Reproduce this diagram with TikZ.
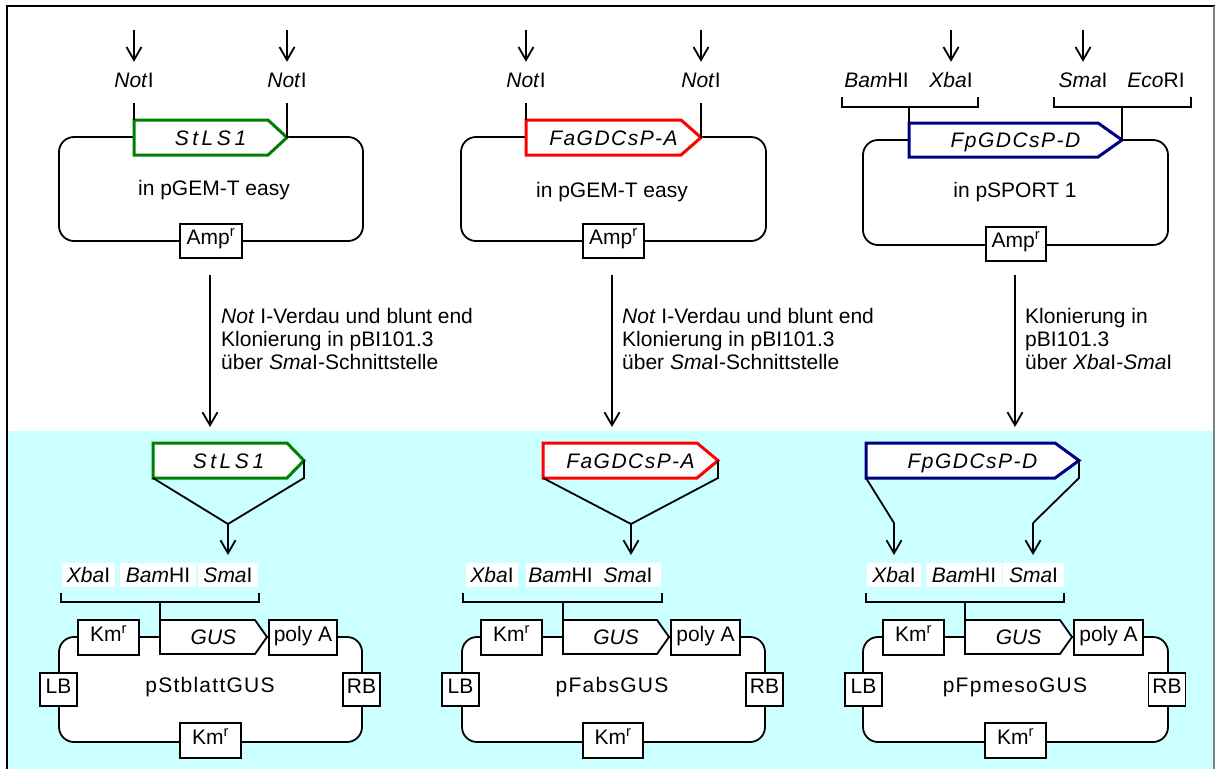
\documentclass[tikz,border=0pt]{standalone}
\usepackage{fontspec}
\setmainfont{Liberation Sans}
\newfontfamily\trackwide[LetterSpace=17]{Liberation Sans}
\newfontfamily\tracknarrow[LetterSpace=7]{Liberation Sans}
\newfontfamily\trackname[LetterSpace=6]{Liberation Sans}
\usetikzlibrary{arrows.meta}
\definecolor{genegreen}{RGB}{0,128,0}
\definecolor{genered}{RGB}{255,0,0}
\definecolor{geneblue}{RGB}{0,0,128}
\definecolor{panelcyan}{RGB}{204,255,255}

% gene cassette: name, outline, left x, shoulder x, tip x, top y, bottom y, label
\newcommand\GeneArrow[8]{%
  \coordinate (#1-nw) at (#3,#6);
  \coordinate (#1-sw) at (#3,#7);
  \coordinate (#1-tip) at (#5,{(#6+#7)/2});
  \coordinate (#1-se) at (#5,#7);
  \draw[genebox,draw=#2] (#1-nw) -- (#4,#6) -- (#1-tip) -- (#4,#7) -- (#1-sw) -- cycle;
  \node[lbl] (#1) at ({(#3+#5)/2},{(#6+#7)/2}) {#8};
}

\begin{document}
\begin{tikzpicture}[x=1pt, y=-1pt, font=\fontsize{21}{23}\selectfont,
  wire/.style={line width=1.8pt},
  arr/.style={line width=1.8pt, -{Straight Barb[length=13pt,width=15pt]}},
  lbl/.style={inner sep=0pt, text height=15pt, text depth=0pt},
  plasmid/.style={draw, fill=white, line width=1.8pt, rounded corners=15pt, inner sep=0pt},
  box/.style={draw, fill=white, line width=1.8pt, inner sep=0pt, text height=15pt, text depth=8pt},
  site/.style={fill=white, inner sep=0pt, minimum height=24pt, text height=15pt, text depth=0pt},
  genebox/.style={fill=white, line width=3pt, line join=miter},
]
\useasboundingbox (0,0) rectangle (1217,769);

% background and frame
\fill[panelcyan] (8,431) rectangle (1214,769);
\draw[line width=1.8pt] (7,769) -- (7,6) -- (1215,6);
\draw[gray, line width=1.2pt] (1214,6) -- (1214,769);

% ---------- source plasmids ----------
\node[plasmid, minimum width=304, minimum height=104] (p1) at (211,189) {};
\node[plasmid, minimum width=305, minimum height=104] (p2) at (613.5,189) {};
\node[plasmid, minimum width=305, minimum height=105] (p3) at (1015.5,192.5) {};
\node[lbl] (p1-name) at (214,188) {in pGEM-T easy};
\node[lbl] (p2-name) at (612,190) {in pGEM-T easy};
\node[lbl] (p3-name) at (1015,190) {in pSPORT 1};
\node[box, minimum width=62, minimum height=34] (amp1) at (211,241) {Amp\textsuperscript{r}};
\node[box, minimum width=61, minimum height=34] (amp2) at (613.5,241) {Amp\textsuperscript{r}};
\node[box, minimum width=60, minimum height=34] (amp3) at (1016,244) {Amp\textsuperscript{r}};

\GeneArrow{g1}{genegreen}{134}{268}{287}{120}{155}{\trackwide\itshape StLS1}
\GeneArrow{g2}{genered}{526}{681}{701}{120}{155}{\tracknarrow\itshape FaGDCsP-A}
\GeneArrow{g3}{geneblue}{909}{1098}{1122}{123}{157}{\tracknarrow\itshape FpGDCsP-D}

% restriction sites of the source plasmids
\node[lbl] (n1a) at (134,80) {\textit{Not}I};
\node[lbl] (n1b) at (287,80) {\textit{Not}I};
\node[lbl] (n2a) at (526,80) {\textit{Not}I};
\node[lbl] (n2b) at (701,80) {\textit{Not}I};
\node[lbl] (bam3) at (876.5,80) {\textit{Bam}HI};
\node[lbl] (xba3) at (951,80) {\textit{Xba}I};
\node[lbl] (sma3) at (1083,80) {\textit{Sma}I};
\node[lbl] (eco3) at (1156,80) {\textit{Eco}RI};

\foreach \n/\x in {n1a/134, n1b/287, n2a/526, n2b/701, xba3/951, sma3/1083}{
  \coordinate (\n-in) at (\x,30);
  \draw[arr, shorten >=10.5pt] (\n-in) -- (\n);
}

\coordinate (t1a) at (134,103);
\coordinate (t1b) at (287,103);
\coordinate (t2a) at (526,103);
\coordinate (t2b) at (701,103);
\draw[wire] (t1a) -- (g1-nw);
\draw[wire] (t1b) -- (g1-tip);
\draw[wire] (t2a) -- (g2-nw);
\draw[wire] (t2b) -- (g2-tip);

\draw[wire] (842,97) |- (978,107) -- (978,97);
\draw[wire] (1054,97) |- (1191,107) -- (1191,97);
\coordinate (s3a) at (909,107);
\coordinate (s3b) at (1122,107);
\draw[wire] (s3a) -- (g3-nw);
\draw[wire] (s3b) -- (g3-tip);

% ---------- cloning steps ----------
\foreach \i/\x in {1/210, 2/612, 3/1015}{
  \coordinate (m\i-s) at (\x,275);
  \coordinate (m\i-e) at (\x,427);
  \draw[arr] (m\i-s) -- (m\i-e);
}
\node[lbl, anchor=west] (d1a) at (221,316) {\textit{Not} I-Verdau und blunt end};
\node[lbl, anchor=west] (d1b) at (221,339) {Klonierung in pBI101.3};
\node[lbl, anchor=west] (d1c) at (221,362) {über \textit{Sma}I-Schnittstelle};
\node[lbl, anchor=west] (d2a) at (622,316) {\textit{Not} I-Verdau und blunt end};
\node[lbl, anchor=west] (d2b) at (622,339) {Klonierung in pBI101.3};
\node[lbl, anchor=west] (d2c) at (622,362) {über \textit{Sma}I-Schnittstelle};
\node[lbl, anchor=west] (d3a) at (1025,316) {Klonierung in};
\node[lbl, anchor=west] (d3b) at (1025,339) {pBI101.3};
\node[lbl, anchor=west] (d3c) at (1025,362) {über \textit{Xba}I-\textit{Sma}I};

% ---------- binary vectors ----------
\node[plasmid, minimum width=303, minimum height=105] (q1) at (210.5,689.5) {};
\node[plasmid, minimum width=303, minimum height=105] (q2) at (613.5,689.5) {};
\node[plasmid, minimum width=305, minimum height=105] (q3) at (1015.5,689.5) {};
\node[lbl] (q1-name) at (210,685) {\trackname pStblattGUS};
\node[lbl] (q2-name) at (612,685) {\trackname pFabsGUS};
\node[lbl] (q3-name) at (1015,685) {\trackname pFpmesoGUS};

\foreach \i/\km/\pa/\pw/\lb/\rb/\kb/\kw in
  {1/108.5/303/68/58.5/361.5/210.5/61,
   2/511.5/705.5/69/460.5/764.5/613/60,
   3/913.5/1108.5/69/863.5/1167/1015.5/61}{
  \node[box, minimum width=61, minimum height=35] (km\i) at (\km,637.5) {Km\textsuperscript{r}};
  \node[box, minimum width=\pw, minimum height=35] (pa\i) at (\pa,637.5) {poly A};
  \node[box, minimum width=37, minimum height=33] (lb\i) at (\lb,689.5) {LB};
  \node[box, minimum width=37, minimum height=33] (rb\i) at (\rb,689.5) {RB};
  \node[box, minimum width=\kw, minimum height=35] (kb\i) at (\kb,740.5) {Km\textsuperscript{r}};
}

\GeneArrow{gus1}{black, line width=1.8pt}{160}{255}{267}{620}{654}{\itshape GUS}
\GeneArrow{gus2}{black, line width=1.8pt}{563}{657}{669}{620}{654}{\itshape GUS}
\GeneArrow{gus3}{black, line width=1.8pt}{965}{1060}{1072}{620}{654}{\itshape GUS}

% multiple cloning sites
\node[site, minimum width=53] (xb1) at (88.5,575) {\textit{Xba}I};
\node[site, minimum width=76] (bm1) at (158,575) {\textit{Bam}HI};
\node[site, minimum width=60] (sm1) at (228,575) {\textit{Sma}I};
\node[site, minimum width=52] (xb2) at (492,575) {\textit{Xba}I};
\node[site, minimum width=69] (bm2) at (560.5,575) {\textit{Bam}HI};
\node[site, minimum width=66] (sm2) at (628,575) {\textit{Sma}I};
\node[site, minimum width=54] (xb3) at (894,575) {\textit{Xba}I};
\node[site, minimum width=76] (bm3) at (964,575) {\textit{Bam}HI};
\node[site, minimum width=61] (sm3) at (1033.5,575) {\textit{Sma}I};

\draw[wire] (61,593) |- (259,602) -- (259,593);
\draw[wire] (463,593) |- (662,602) -- (662,593);
\draw[wire] (866,593) |- (1064,602) -- (1064,593);
\coordinate (c1) at (160,602);
\coordinate (c2) at (563,602);
\coordinate (c3) at (965,602);
\draw[wire] (c1) -- (gus1-nw);
\draw[wire] (c2) -- (gus2-nw);
\draw[wire] (c3) -- (gus3-nw);

% inserts
\GeneArrow{h1}{genegreen}{153}{287}{304}{443}{478}{\trackwide\itshape StLS1}
\GeneArrow{h2}{genered}{543}{697}{718}{443}{478}{\tracknarrow\itshape FaGDCsP-A}
\GeneArrow{h3}{geneblue}{866}{1055}{1079}{443}{478}{\tracknarrow\itshape FpGDCsP-D}

\coordinate (v1) at (228,524);
\coordinate (v1-e) at (228,555);
\draw[wire] (h1-sw) -- (v1);
\draw[wire] (h1-tip) -- (h1-se) -- (v1);
\draw[arr] (v1) -- (v1-e);

\coordinate (v2) at (631,524);
\coordinate (v2-e) at (631,555);
\draw[wire] (h2-sw) -- (v2);
\draw[wire] (h2-tip) -- (h2-se) -- (v2);
\draw[arr] (v2) -- (v2-e);

\coordinate (v3l) at (894,523);
\coordinate (v3l-e) at (894,555);
\coordinate (v3r) at (1033,523);
\coordinate (v3r-e) at (1033,555);
\draw[wire] (h3-sw) -- (v3l);
\draw[arr] (v3l) -- (v3l-e);
\draw[wire] (h3-tip) -- (h3-se) -- (v3r);
\draw[arr] (v3r) -- (v3r-e);
\end{tikzpicture}
\end{document}
